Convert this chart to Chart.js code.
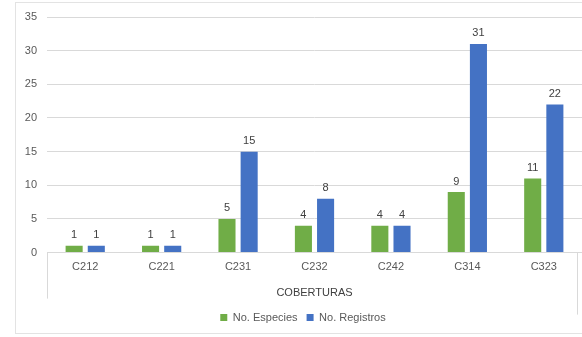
<!DOCTYPE html>
<html>
<head>
<meta charset="utf-8">
<script src="https://cdn.jsdelivr.net/npm/chart.js@4/dist/chart.umd.min.js"></script>
<style>
  html, body { margin: 0; padding: 0; background: #fff; }
  #marco { position: absolute; left: 15px; top: 2px; width: 600px; height: 330px; border: 1px solid #e3e3e3; }
  #wrap { position: absolute; left: 0; top: 0; width: 582px; height: 337px; }
</style>
</head>
<body>
<div id="marco"></div>
<div id="wrap"><canvas id="grafico"></canvas></div>
<script>
var coberturas = ['C212', 'C221', 'C231', 'C232', 'C242', 'C314', 'C323'];
var especies = [1, 1, 5, 4, 4, 9, 11];
var registros = [1, 1, 15, 8, 4, 31, 22];
var ticksY = [0, 5, 10, 15, 20, 25, 30, 35];

var fuente = "'Liberation Sans', Arial, sans-serif";

// valores encima de cada barra
var etiquetas = {
    id: 'etiquetas',
    afterDatasetsDraw: function (chart) {
        var ctx = chart.ctx;
        ctx.save();
        ctx.font = '11px ' + fuente;
        ctx.fillStyle = '#404040';
        ctx.textAlign = 'center';
        ctx.textBaseline = 'bottom';
        chart.data.datasets.forEach(function (ds, i) {
            chart.getDatasetMeta(i).data.forEach(function (bar, j) {
                ctx.fillText(ds.data[j], bar.x, bar.y - 5);
            });
        });
        ctx.restore();
    }
};

// lineas verticales del eje de categorias
var divisores = {
    id: 'divisores',
    afterLayout: function (chart) {
        // la leyenda va un poco a la derecha, como en el original
        chart.legend.left += 12;
        chart.legend.right += 12;
    },
    afterDraw: function (chart) {
        var a = chart.chartArea;
        var ctx = chart.ctx;
        ctx.save();
        ctx.strokeStyle = '#d9d9d9';
        ctx.lineWidth = 1;
        ctx.beginPath();
        ctx.moveTo(Math.round(a.left) + 0.5, a.bottom);
        ctx.lineTo(Math.round(a.left) + 0.5, a.bottom + 46);
        ctx.moveTo(Math.round(a.right) - 4.5, a.bottom);
        ctx.lineTo(Math.round(a.right) - 4.5, a.bottom + 62);
        ctx.stroke();
        ctx.restore();
    }
};

new Chart(document.getElementById('grafico'), {
    type: 'bar',
    data: {
        labels: coberturas,
        datasets: [{
            label: 'No. Especies',
            data: especies,
            backgroundColor: '#70ad47'
        }, {
            label: 'No. Registros',
            data: registros,
            backgroundColor: '#4472c4'
        }]
    },
    options: {
        responsive: true,
        maintainAspectRatio: false,
        animation: false,
        categoryPercentage: 0.58,
        barPercentage: 0.77,
        layout: { padding: { left: 0, right: 0, top: 17, bottom: 4 } },
        scales: {
            x: {
                grid: { display: false, drawTicks: false },
                border: { display: true, color: '#d9d9d9' },
                ticks: { color: '#595959', font: { family: fuente, size: 11 }, padding: 8 },
                title: {
                    display: true,
                    text: 'COBERTURAS',
                    color: '#404040',
                    font: { family: fuente, size: 11 },
                    padding: { top: 5, bottom: 3 }
                }
            },
            y: {
                min: 0,
                max: 35,
                afterBuildTicks: function (scale) {
                    scale.ticks = ticksY.map(function (v) { return { value: v }; });
                },
                afterFit: function (scale) { scale.width = 47; },
                grid: { color: '#d9d9d9', drawTicks: false },
                border: { display: false },
                ticks: { color: '#595959', font: { family: fuente, size: 11 }, padding: 10 }
            }
        },
        plugins: {
            legend: {
                position: 'bottom',
                labels: {
                    boxWidth: 7,
                    boxHeight: 7,
                    padding: 9,
                    color: '#595959',
                    font: { family: fuente, size: 11 }
                }
            },
            tooltip: { enabled: false }
        }
    },
    plugins: [etiquetas, divisores]
});
</script>
</body>
</html>
